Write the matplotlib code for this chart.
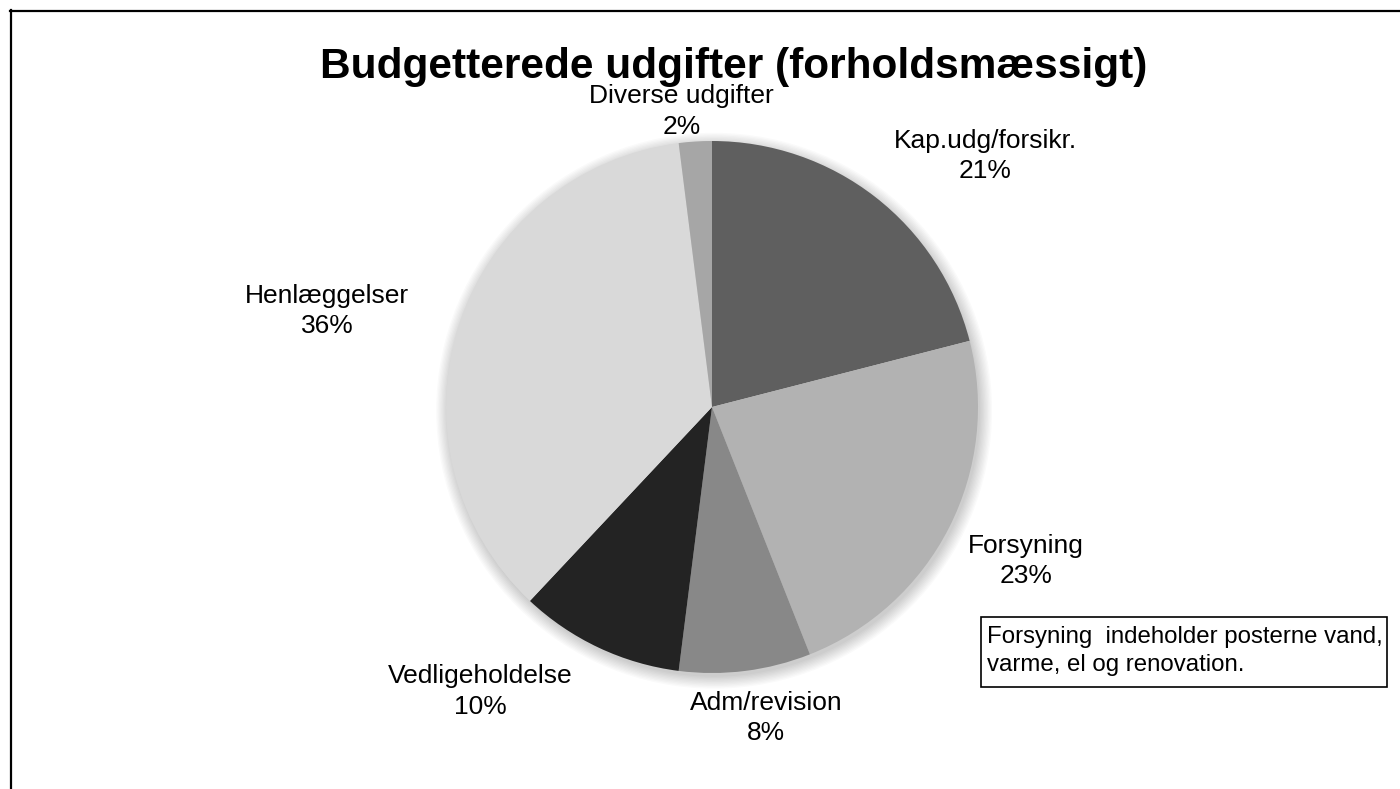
import numpy as np
import matplotlib.pyplot as plt
from matplotlib.patches import Circle, Rectangle
from matplotlib.lines import Line2D

plt.rcParams['font.family'] = ['Liberation Sans', 'DejaVu Sans']

# data
categories = ['Kap.udg/forsikr.', 'Forsyning', 'Adm/revision',
              'Vedligeholdelse', 'Henlæggelser', 'Diverse udgifter']
shares = [21, 23, 8, 10, 36, 2]
colors = ['#5f5f5f', '#b2b2b2', '#888888', '#232323', '#d9d9d9', '#a6a6a6']

# label placement: (distance from centre in radii, angle offset in degrees)
label_dist = [1.394, 1.315, 1.187, 1.379, 1.491, 1.118]
label_dang = [-9.6, 0.9, 2.7, -14.0, 4.0, 2.3]

W, H = 1400, 789
fig = plt.figure(figsize=(W / 100, H / 100), dpi=100)

cx, cy, r = 712, 407, 266
ax = fig.add_axes([(cx - r) / W, (H - cy - r) / H, 2 * r / W, 2 * r / H])

# soft shadow under the pie
for i in range(10):
    ax.add_patch(Circle((0.008, -0.014), 1.0 + 0.005 * i, color='black',
                        alpha=0.02, lw=0, zorder=0, clip_on=False))

wedges, _ = ax.pie(shares, colors=colors, startangle=90, counterclock=False,
                   radius=1, wedgeprops=dict(linewidth=0, zorder=2))
ax.set_xlim(-1, 1)
ax.set_ylim(-1, 1)
ax.set_aspect('auto')
ax.axis('off')

start = 90.0
total = float(sum(shares))
for name, val, d, da in zip(categories, shares, label_dist, label_dang):
    span = 360.0 * val / total
    mid = np.deg2rad(start - span / 2 + da)
    start -= span
    ax.text(d * np.cos(mid), d * np.sin(mid), f'{name}\n{val}%',
            ha='center', va='center', fontsize=19, linespacing=1.35,
            clip_on=False)

fig.text(734 / W, 1 - 78 / H, 'Budgetterede udgifter (forholdsmæssigt)',
         ha='center', va='baseline', fontsize=30.5, fontweight='bold')

# note box
fig.add_artist(Rectangle((981 / W, 1 - 687 / H), 406 / W, 70 / H,
                         transform=fig.transFigure, fc='white', ec='black',
                         lw=1.2))
fig.text(987 / W, 1 - 651 / H,
         'Forsyning  indeholder posterne vand,\nvarme, el og renovation.',
         ha='left', va='center', fontsize=17.3, linespacing=1.35)

# chart frame (only top and left edges are visible)
fig.add_artist(Line2D([10 / W, 1], [1 - 11 / H, 1 - 11 / H],
                      transform=fig.transFigure, color='black', lw=1.6))
fig.add_artist(Line2D([10.5 / W, 10.5 / W], [0, 1 - 10 / H],
                      transform=fig.transFigure, color='black', lw=1.6))

fig.savefig('out.png', dpi=100)
